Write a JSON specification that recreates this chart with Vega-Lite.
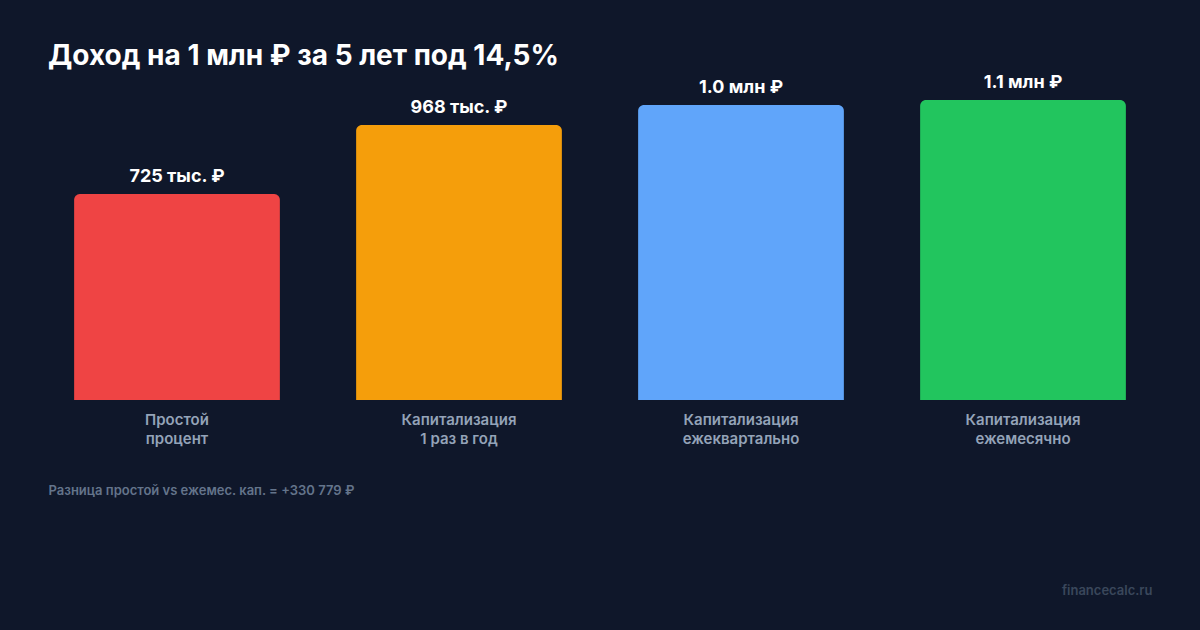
{
  "$schema": "https://vega.github.io/schema/vega-lite/v6.json",
  "autosize": {"type": "none"},
  "width": 1128,
  "height": 300,
  "padding": {"left": 36, "top": 100, "right": 36, "bottom": 230},
  "background": "#0f172a",
  "config": {"view": {"stroke": null}, "font": "Inter"},
  "title": {
    "text": "Доход на 1 млн ₽ за 5 лет под 14,5%",
    "anchor": "start",
    "frame": "group",
    "dx": 12,
    "dy": 52,
    "font": "Inter",
    "fontSize": 28,
    "fontWeight": "bold",
    "color": "#ffffff",
    "baseline": "alphabetic",
    "offset": 33
  },
  "data": {
    "values": [
      {"category": "Простой|процент", "value": 725000, "label": "725 тыс. ₽"},
      {"category": "Капитализация|1 раз в год", "value": 968011, "label": "968 тыс. ₽"},
      {"category": "Капитализация|ежеквартально", "value": 1038340, "label": "1.0 млн ₽"},
      {"category": "Капитализация|ежемесячно", "value": 1055779, "label": "1.1 млн ₽"}
    ]
  },
  "encoding": {
    "x": {
      "field": "category",
      "type": "nominal",
      "sort": null,
      "scale": {"paddingInner": 0.27, "paddingOuter": 0.135},
      "axis": {
        "title": "Разница простой vs ежемес. кап. = +330 779 ₽",
        "titleFont": "Inter",
        "titleFontSize": 13,
        "titleFontWeight": 600,
        "titleColor": "#64748b",
        "titleAnchor": "start",
        "titleAlign": "left",
        "titleBaseline": "alphabetic",
        "titleX": 12,
        "titleY": 94,
        "labelExpr": "split(datum.label, '|')",
        "labelAngle": 0,
        "labelFont": "Inter",
        "labelFontSize": 15,
        "labelFontWeight": 600,
        "labelColor": "#94a3b8",
        "labelLineHeight": 19,
        "labelPadding": 12,
        "labelBaseline": "top",
        "domain": false,
        "ticks": false
      }
    },
    "y": {
      "field": "value",
      "type": "quantitative",
      "scale": {"domain": [0, 1055779], "nice": false, "zero": true},
      "axis": {
        "orient": "right",
        "domain": false,
        "ticks": false,
        "labels": false,
        "grid": false,
        "title": "financecalc.ru",
        "titleAngle": 0,
        "titleFont": "Inter",
        "titleFontSize": 13,
        "titleFontWeight": 600,
        "titleColor": "#3a475b",
        "titleAlign": "right",
        "titleBaseline": "alphabetic",
        "titleX": -12,
        "titleY": 494
      }
    }
  },
  "layer": [
    {
      "mark": {"type": "bar", "cornerRadiusTopLeft": 6, "cornerRadiusTopRight": 6},
      "encoding": {
        "color": {
          "field": "category",
          "type": "nominal",
          "sort": null,
          "scale": {"range": ["#ef4444", "#f59e0b", "#60a5fa", "#22c55e"]},
          "legend": null
        }
      }
    },
    {
      "mark": {"type": "text", "font": "Inter", "fontSize": 18, "fontWeight": "bold", "color": "#ffffff", "baseline": "alphabetic", "dy": -12, "clip": false},
      "encoding": {"text": {"field": "label"}}
    }
  ]
}
